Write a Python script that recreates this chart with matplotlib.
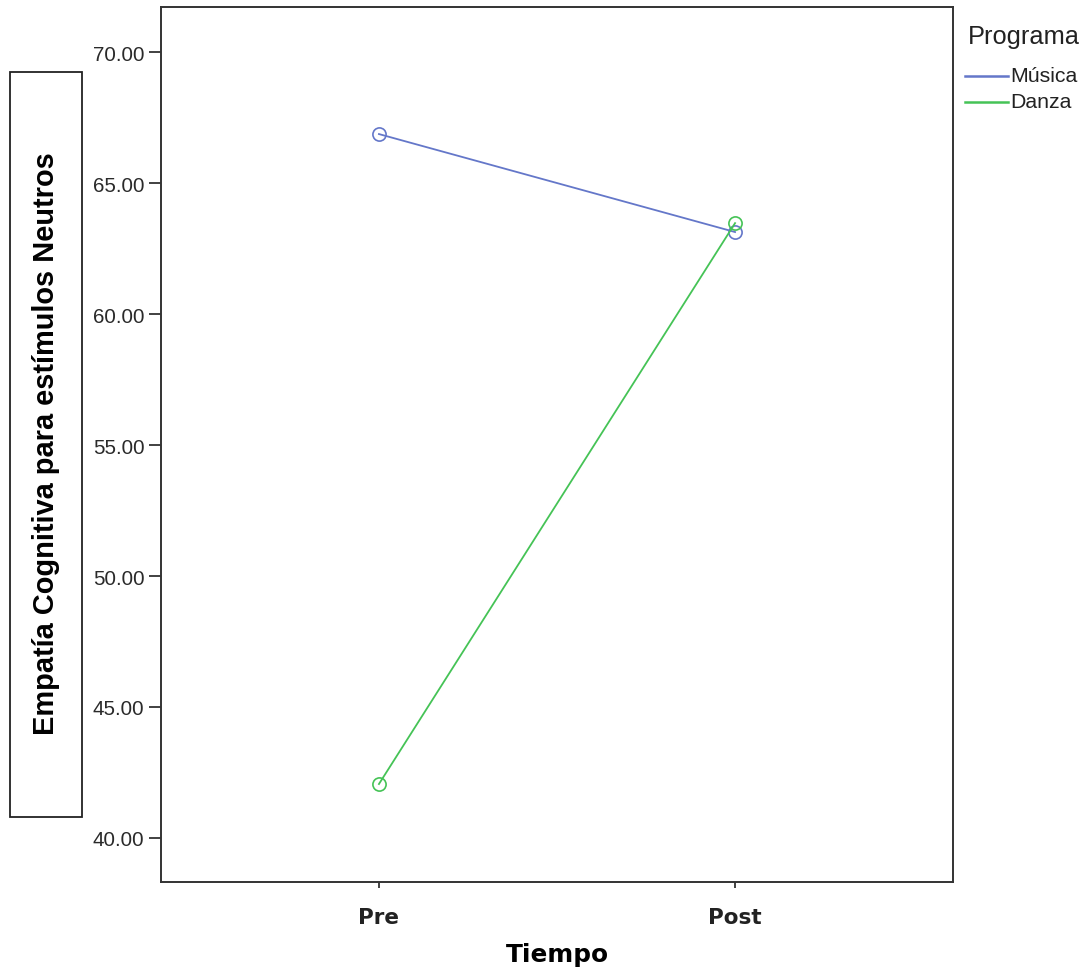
import matplotlib
matplotlib.use("Agg")
import matplotlib.pyplot as plt
from matplotlib.patches import Rectangle
from matplotlib.lines import Line2D

tiempo = ["Pre", "Post"]
musica = [66.87, 63.13]
danza = [42.06, 63.47]
series_names = ["Música", "Danza"]
yticks = [40, 45, 50, 55, 60, 65, 70]

W, H = 1086, 978
fig = plt.figure(figsize=(W/100, H/100), dpi=100)
ax = fig.add_axes([161/W, 1-883/H, (953-161)/W, (883-8)/H])

c_mus = "#6477c9"
c_dan = "#45c356"
colors = [c_mus, c_dan]
x = list(range(len(tiempo)))
for vals, col, name in zip([musica, danza], colors, series_names):
    ax.plot(x, vals, color=col, lw=1.3, marker="o", ms=9.5, mfc="none", mec=col, mew=1.2, label=name)

ax.set_xlim(-0.612, 1.612)
ax.set_ylim(38.32, 71.72)
ax.set_xticks(x)
ax.set_xticklabels(tiempo, fontfamily="DejaVu Sans", fontweight="bold", fontsize=15.5, color="#222222")
ax.set_yticks(yticks)
ax.set_yticklabels([f"{v:.2f}" for v in yticks], fontfamily="Liberation Sans", fontsize=14.8, color="#2a2a2a")
ax.tick_params(axis="y", length=9, width=1.3, color="#333333", pad=3)
ax.tick_params(axis="x", length=4, width=1.3, color="#333333", pad=14)
for s in ax.spines.values():
    s.set_linewidth(1.4)
    s.set_color("#333333")

ax.set_xlabel("Tiempo", fontfamily="DejaVu Sans", fontweight="bold", fontsize=17.8, labelpad=11)

# y label in a box
fig.add_artist(Rectangle((10/W, 1-818/H), 72/W, 745/H, transform=fig.transFigure,
                         fill=False, edgecolor="#222222", lw=1.3))
fig.text(46/W, 1-443.5/H, "Empatía Cognitiva para estímulos Neutros", rotation=90,
         ha="center", va="center", fontfamily="Liberation Sans", fontweight="bold", fontsize=20.9)

# legend (manual, outside the axes)
fig.text(968/W, 1-37/H, "Programa", ha="left", va="center",
         fontfamily="Liberation Sans", fontsize=18.3, color="#222222")
for i, (name, col) in enumerate(zip(series_names, colors)):
    yy = 1 - (77 + 26*i)/H
    fig.add_artist(Line2D([965/W, 1008/W], [yy, yy], transform=fig.transFigure, color=col, lw=1.8))
    fig.text(1010/W, yy, name, ha="left", va="center",
             fontfamily="Liberation Sans", fontsize=15.3, color="#222222")

fig.savefig("out.png", dpi=100)
